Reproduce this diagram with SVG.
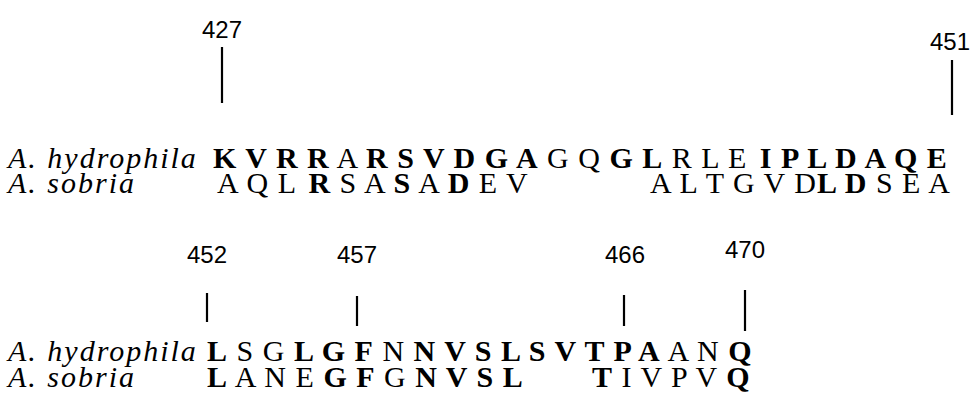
<svg xmlns="http://www.w3.org/2000/svg" width="974" height="412" viewBox="0 0 974 412">
<style>
.sp{font-family:"Liberation Serif","Times New Roman",serif;font-style:italic;font-size:30px;letter-spacing:2px;fill:#000}
.seq{font-family:"Liberation Serif","Times New Roman",serif;font-size:30px;letter-spacing:1px;fill:#000}
.b{font-weight:bold}
.num{font-family:"Liberation Sans",Arial,sans-serif;font-size:24px;fill:#000;text-anchor:middle}
.tick{stroke:#000;stroke-width:2.2}
</style>
<rect width="974" height="412" fill="#fff"/>
<g id="labels">
<text class="sp" x="8" y="168">A. hydrophila</text>
<text class="sp" x="8" y="193">A. sobria</text>
<text class="sp" x="8" y="361">A. hydrophila</text>
<text class="sp" x="8" y="387">A. sobria</text>
</g>
<g id="row1-hydrophila">
<text class="seq" x="213" y="168"><tspan class="b">K V R R</tspan> A <tspan class="b">R S V D G A</tspan> G Q <tspan class="b">G L</tspan> R L E <tspan class="b" dx="4">I P L D A Q E</tspan></text>
</g>
<g id="row1-sobria">
<text class="seq" x="217" y="193">A Q L <tspan class="b" dx="4">R</tspan> S A <tspan class="b">S</tspan> A <tspan class="b">D</tspan> E V</text>
<text class="seq" x="650" y="193">A L T G V D<tspan class="b">L D</tspan> S E A</text>
</g>
<g id="row2-hydrophila">
<text class="seq" x="207" y="361"><tspan class="b">L</tspan> S G <tspan class="b">L G F</tspan> N <tspan class="b">N V S L S V T P A</tspan> A N <tspan class="b">Q</tspan></text>
</g>
<g id="row2-sobria">
<text class="seq" x="207" y="387"><tspan class="b">L</tspan> A N E <tspan class="b">G F</tspan> G <tspan class="b">N V S L</tspan></text>
<text class="seq" x="592" y="387"><tspan class="b">T</tspan> I V P V <tspan class="b">Q</tspan></text>
</g>
<g id="markers">
<text class="num" x="222" y="38">427</text>
<text class="num" x="950" y="50">451</text>
<text class="num" x="207" y="263">452</text>
<text class="num" x="357" y="263">457</text>
<text class="num" x="625" y="263">466</text>
<text class="num" x="745" y="258">470</text>
</g>
<g id="connectors">
<line class="tick" x1="222" y1="47" x2="222" y2="103"/>
<line class="tick" x1="952" y1="60" x2="952" y2="115"/>
<line class="tick" x1="207" y1="293" x2="207" y2="322"/>
<line class="tick" x1="357" y1="296" x2="357" y2="326"/>
<line class="tick" x1="624" y1="295" x2="624" y2="326"/>
<line class="tick" x1="745" y1="290" x2="745" y2="331"/>
</g>
</svg>
